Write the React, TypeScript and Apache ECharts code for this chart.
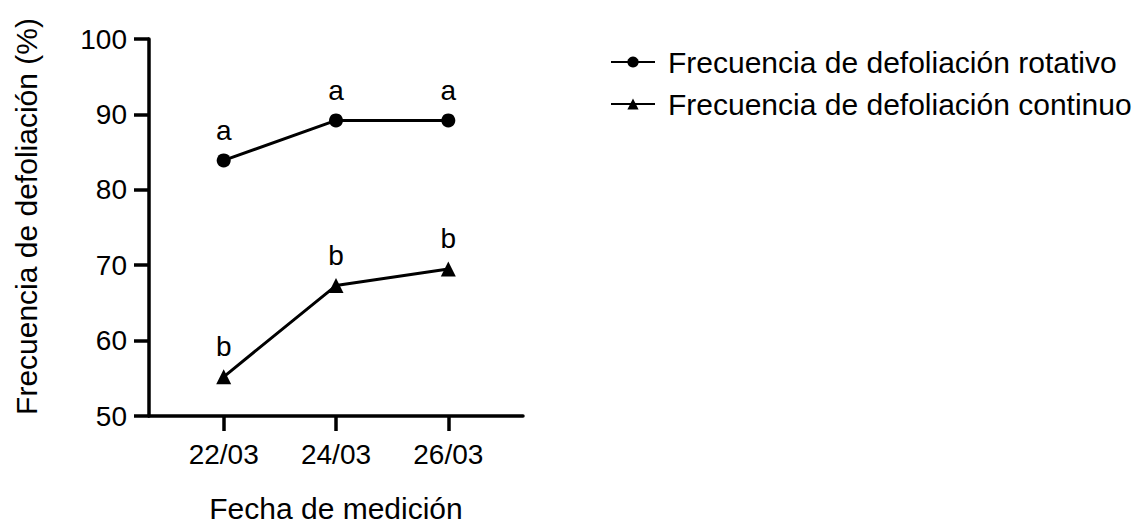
import React, { useEffect, useRef } from "react";
import * as echarts from "echarts";

const dates = ["22/03", "24/03", "26/03"];
const rotativo = [83.9, 89.2, 89.2];
const continuo = [55.2, 67.3, 69.5];
const rotativoLetters = ["a", "a", "a"];
const continuoLetters = ["b", "b", "b"];
const seriesNames = [
  "Frecuencia de defoliación rotativo",
  "Frecuencia de defoliación continuo",
];

const FONT = "'Liberation Sans', Arial, Helvetica, sans-serif";

export default function App() {
  const ref = useRef<HTMLDivElement>(null);
  useEffect(() => {
    if (!ref.current) return;
    const chart = echarts.init(ref.current, undefined, { renderer: "svg" });
    const mk = (vals: number[], letters: string[]) =>
      vals.map((v, i) => ({ value: [i, v], letter: letters[i] }));
    const labelCfg = {
      show: true,
      position: "top",
      distance: 9,
      fontFamily: FONT,
      fontSize: 28,
      color: "#000",
      formatter: (p: any) => p.data.letter,
    };
    chart.setOption({
      animation: false,
      backgroundColor: "#fff",
      textStyle: { fontFamily: FONT, color: "#000" },
      grid: { left: 149, top: 39, right: 625, bottom: 112, containLabel: false },
      legend: {
        orient: "vertical",
        left: 605,
        top: 42,
        itemWidth: 44,
        itemHeight: 14,
        itemGap: 12,
        textStyle: { fontFamily: FONT, fontSize: 30, color: "#000", padding: [0, 0, 0, 8] },
        data: seriesNames,
      },
      xAxis: {
        type: "value",
        min: -0.665,
        max: 2.665,
        name: "Fecha de medición",
        nameLocation: "middle",
        nameGap: 77,
        nameTextStyle: { fontFamily: FONT, fontSize: 30, color: "#000" },
        axisLine: { show: true, onZero: false, lineStyle: { color: "#000", width: 3.5 } },
        axisTick: { show: true, length: 15, lineStyle: { color: "#000", width: 3.5 }, customValues: [0, 1, 2] },
        axisLabel: {
          customValues: [0, 1, 2],
          formatter: (v: number) => dates[Math.round(v)] ?? "",
          fontFamily: FONT,
          fontSize: 28,
          color: "#000",
          margin: 24,
        },
        splitLine: { show: false },
      },
      yAxis: {
        type: "value",
        min: 50,
        max: 100,
        interval: 10,
        name: "Frecuencia de defoliación (%)",
        nameLocation: "middle",
        nameGap: 108,
        nameTextStyle: { fontFamily: FONT, fontSize: 30, color: "#000", padding: [0, 0, 0, 22] },
        axisLine: { show: true, onZero: false, lineStyle: { color: "#000", width: 3.5 } },
        axisTick: { show: true, length: 15, lineStyle: { color: "#000", width: 3.5 } },
        axisLabel: { fontFamily: FONT, fontSize: 28, color: "#000", margin: 22 },
        splitLine: { show: false },
      },
      series: [
        {
          name: seriesNames[0],
          type: "line",
          data: mk(rotativo, rotativoLetters),
          symbol: "circle",
          symbolSize: 14,
          itemStyle: { color: "#000" },
          lineStyle: { color: "#000", width: 3 },
          label: labelCfg,
        },
        {
          name: seriesNames[1],
          type: "line",
          data: mk(continuo, continuoLetters),
          symbol: "triangle",
          symbolSize: 15,
          itemStyle: { color: "#000" },
          lineStyle: { color: "#000", width: 3 },
          label: labelCfg,
        },
      ],
    });
    return () => chart.dispose();
  }, []);
  return (
    <div
      ref={ref}
      style={{ position: "fixed", left: 0, top: 0, width: 1148, height: 528 }}
    />
  );
}
